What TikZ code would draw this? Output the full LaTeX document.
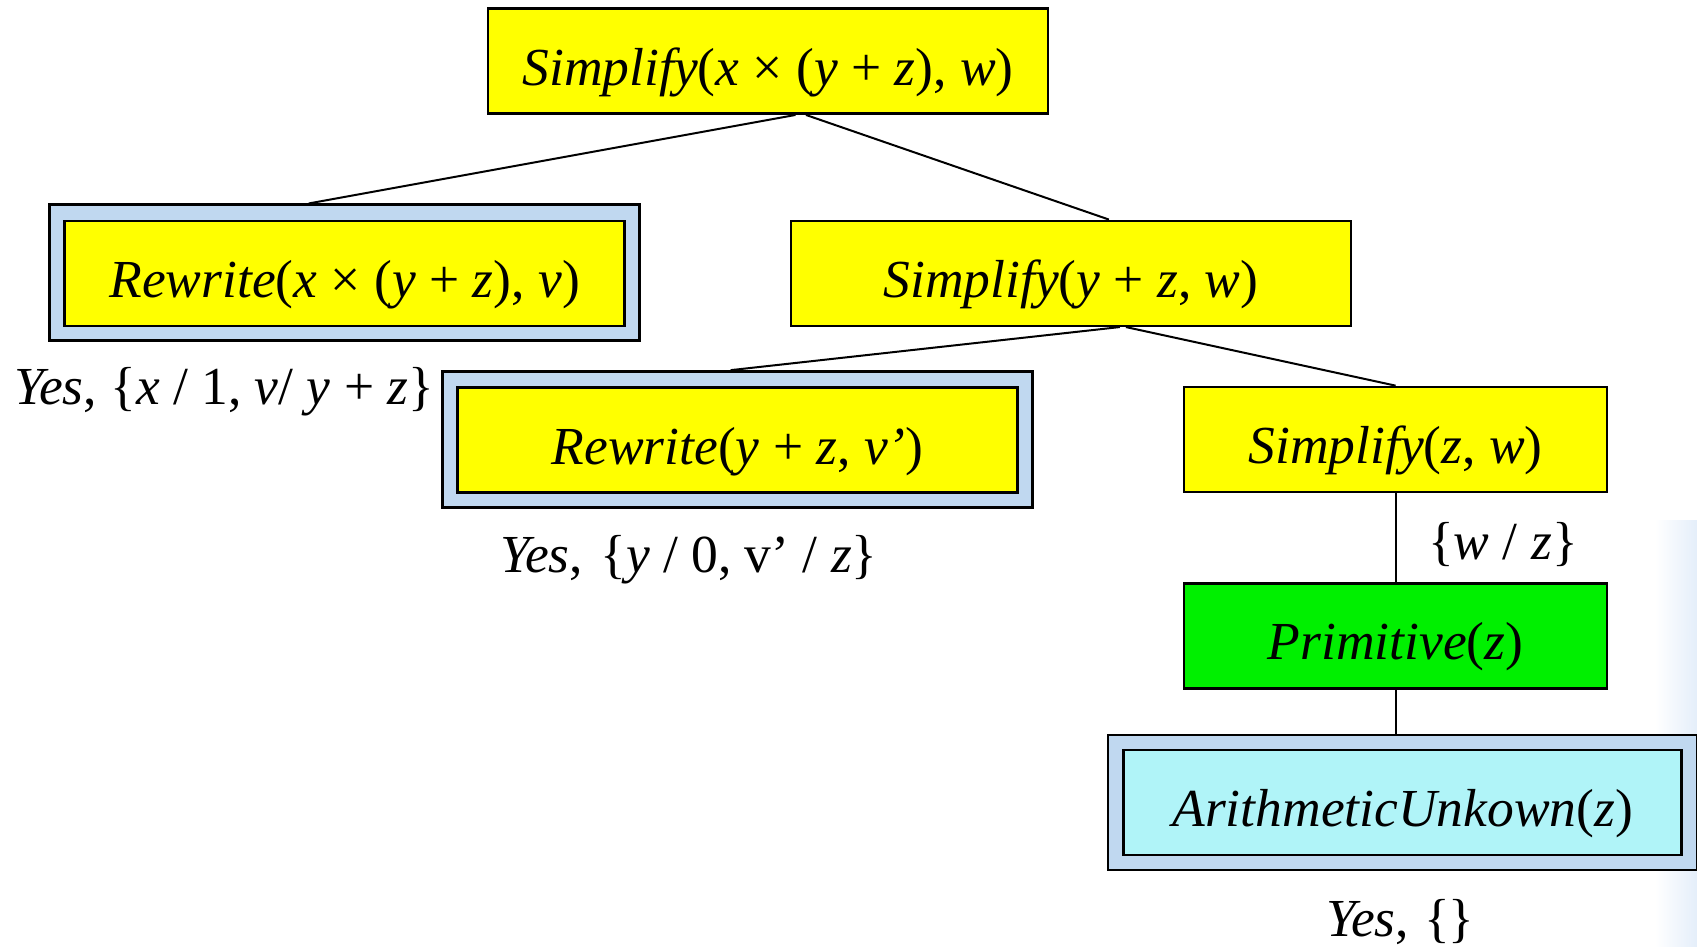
\documentclass[tikz,border=0pt]{standalone}
\usepackage{fontspec}
\setmainfont{Liberation Serif}
\definecolor{yel}{RGB}{255,255,0}
\definecolor{frameblue}{RGB}{192,216,240}
\definecolor{cyanfill}{RGB}{176,244,248}
\definecolor{greenfill}{RGB}{0,240,0}
\definecolor{edgeblue}{RGB}{228,238,250}
\newcommand\myit[1]{\textit{#1}}
\tikzset{
  txt/.style={font=\fontsize{53.5}{62}\selectfont},
  goalbox/.style={txt, draw=black, line width=2.5pt, fill=yel, minimum height=105pt, inner sep=0pt, text height=52pt, text depth=4pt},
  widebox/.style={goalbox, minimum width=560pt},
  narrowbox/.style={goalbox, minimum width=423pt},
  outerframe/.style={draw=black, line width=2.5pt, fill=frameblue, minimum width=590pt, minimum height=136pt, inner sep=0pt},
  conn/.style={draw=black, line width=2pt},
  lab/.style={txt, inner sep=0pt, anchor=west}
}
\begin{document}
\begin{tikzpicture}[x=1pt,y=-1pt]
\useasboundingbox (0,0) rectangle (1697,946);
\shade[left color=white, right color=edgeblue] (1655,520) rectangle (1697,946);

% nodes
\node[widebox] (top) at (768,61.2) {\myit{Simplify}(\myit{x} × (\myit{y} + \myit{z}), \myit{w})};

\node[outerframe] (rw1o) at (344.7,272.7) {};
\node[widebox] (rw1) at (344.7,273.3) {\myit{Rewrite}(\myit{x} × (\myit{y} + \myit{z}), \myit{v})};

\node[widebox] (s2) at (1070.9,273.3) {\myit{Simplify}(\myit{y} + \myit{z}, \myit{w})};

\node[outerframe] (rw2o) at (737.6,439.4) {};
\node[widebox] (rw2) at (737.6,440) {\myit{Rewrite}(\myit{y} + \myit{z}, \myit{v’})};

\node[narrowbox] (s3) at (1395.6,439.4) {\myit{Simplify}(\myit{z}, \myit{w})};

\node[narrowbox, fill=greenfill] (prim) at (1395.6,635.9) {\myit{Primitive}(\myit{z})};

\node[outerframe, minimum width=589pt, minimum height=135pt] (aro) at (1402.7,802.5) {};
\node[goalbox, fill=cyanfill, minimum width=558pt] (ar) at (1402.7,802.5) {\myit{ArithmeticUnkown}(\myit{z})};

% connectors
\draw[conn] ([xshift=27.5pt]top.south) -- ([xshift=-36pt]rw1o.north);
\draw[conn] ([xshift=38pt]top.south) -- ([xshift=38pt]s2.north);
\draw[conn] ([xshift=49pt]s2.south) -- ([xshift=-7pt]rw2o.north);
\draw[conn] ([xshift=55pt]s2.south) -- (s3.north);
\draw[conn] (s3.south) -- (prim.north);
\draw[conn] (prim.south) -- (prim.south |- aro.north);

% labels
\node[lab] (l1) at (14,392) {\myit{Yes}, \{\myit{x} / 1, \myit{v}/ \myit{y} + \myit{z}\}};
\node[lab] (l2) at (500,560) {\myit{Yes},\hspace{4pt} \{\myit{y} / 0, v’ / \myit{z}\}};
\node[lab] (l3) at (1428,545) {\{\myit{w} / \myit{z}\}};
\node[lab] (l4) at (1326,922) {\myit{Yes},\hspace{2pt} \{\kern-2pt\}};
\end{tikzpicture}
\end{document}
